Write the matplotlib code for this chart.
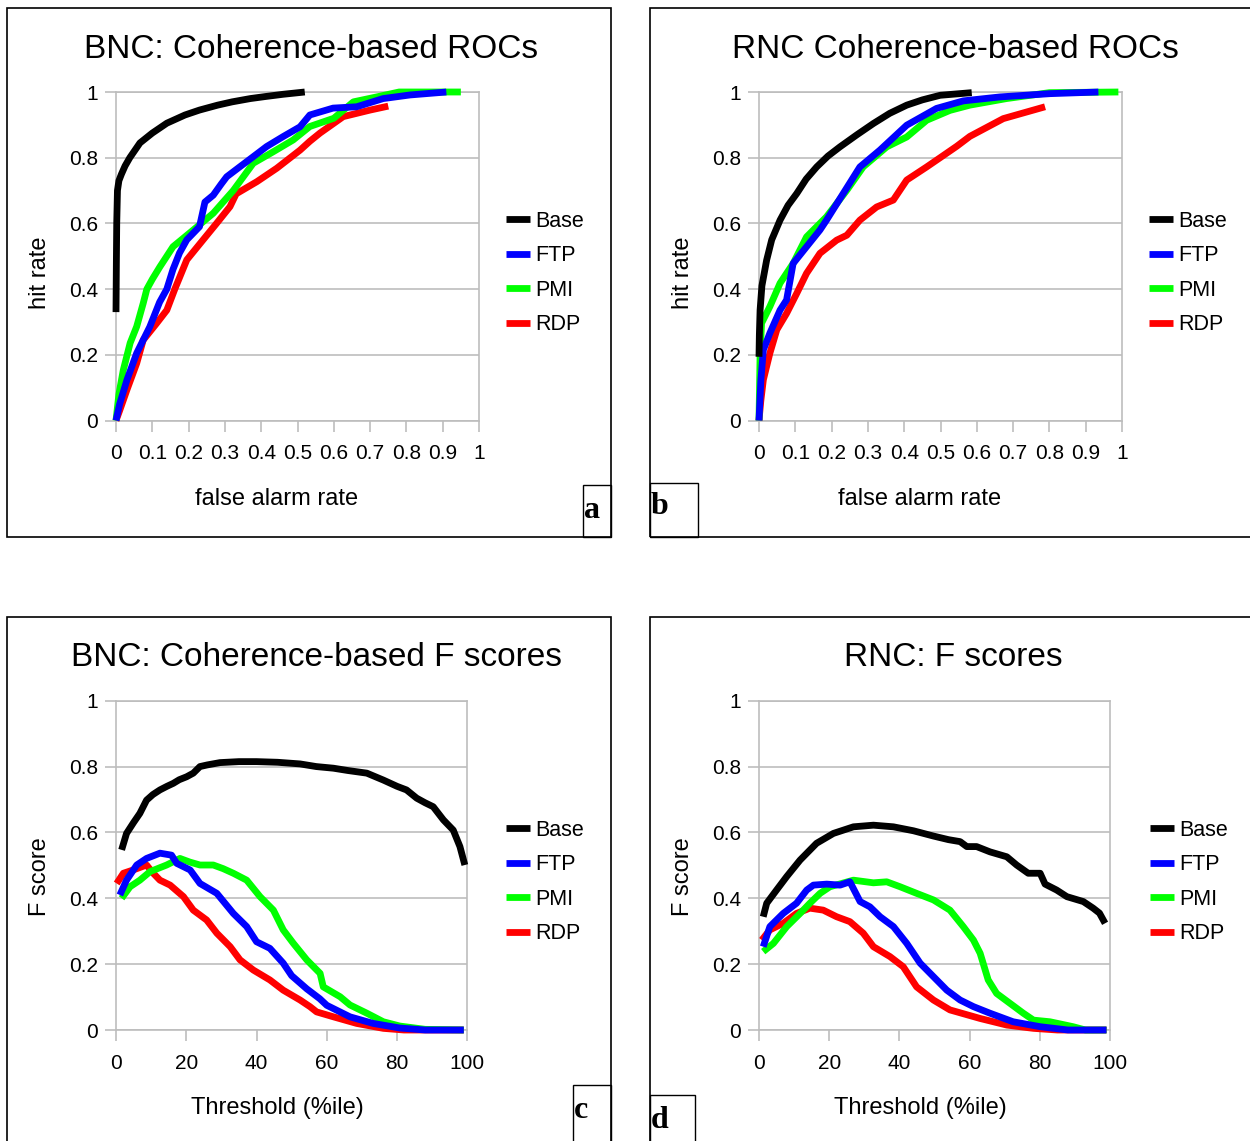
import matplotlib
matplotlib.use('Agg')
import matplotlib.pyplot as plt
from matplotlib.patches import Rectangle

plt.rcParams['font.family'] = ['Liberation Sans', 'DejaVu Sans']

W, H = 1250, 1141

series_names = ['Base', 'FTP', 'PMI', 'RDP']
series_colors = {'Base': '#000000', 'FTP': '#0000ff', 'PMI': '#00ff00', 'RDP': '#ff0000'}

roc_ticks = [0, 0.1, 0.2, 0.3, 0.4, 0.5, 0.6, 0.7, 0.8, 0.9, 1]
roc_tick_labels = ['0', '0.1', '0.2', '0.3', '0.4', '0.5', '0.6', '0.7', '0.8', '0.9', '1']
thr_ticks = [0, 20, 40, 60, 80, 100]
thr_tick_labels = ['0', '20', '40', '60', '80', '100']
y_ticks = [0, 0.2, 0.4, 0.6, 0.8, 1]
y_tick_labels = ['0', '0.2', '0.4', '0.6', '0.8', '1']

# ---- BNC ROC (false alarm rate, hit rate)
bnc_base_far = [0, 0.001, 0.002, 0.004, 0.008, 0.015, 0.025, 0.038, 0.066, 0.10, 0.14, 0.19,
                0.23, 0.28, 0.32, 0.37, 0.41, 0.46, 0.52]
bnc_base_hit = [0.33, 0.48, 0.60, 0.70, 0.73, 0.75, 0.775, 0.80, 0.845, 0.875, 0.905, 0.93,
                0.945, 0.96, 0.97, 0.98, 0.986, 0.993, 1.0]
bnc_ftp_far = [0, 0.01, 0.03, 0.057, 0.075, 0.093, 0.12, 0.14, 0.157, 0.175, 0.195, 0.23, 0.245,
               0.268, 0.29, 0.305, 0.342, 0.378, 0.415, 0.46, 0.507, 0.534, 0.598, 0.663, 0.736,
               0.81, 0.91]
bnc_ftp_hit = [0, 0.05, 0.123, 0.205, 0.245, 0.285, 0.36, 0.40, 0.46, 0.51, 0.55, 0.59, 0.665,
               0.686, 0.72, 0.742, 0.773, 0.803, 0.834, 0.864, 0.894, 0.93, 0.951, 0.955, 0.98,
               0.991, 1.0]
bnc_pmi_far = [0, 0.008, 0.02, 0.039, 0.057, 0.075, 0.085, 0.10, 0.121, 0.157, 0.213, 0.268,
               0.323, 0.378, 0.433, 0.488, 0.534, 0.60, 0.654, 0.718, 0.78, 0.95]
bnc_pmi_hit = [0, 0.08, 0.153, 0.236, 0.286, 0.357, 0.40, 0.43, 0.468, 0.529, 0.58, 0.631,
               0.70, 0.783, 0.818, 0.854, 0.895, 0.92, 0.97, 0.985, 1.0, 1.0]
bnc_rdp_far = [0, 0.01, 0.03, 0.057, 0.075, 0.112, 0.14, 0.162, 0.195, 0.24, 0.277, 0.314,
               0.331, 0.388, 0.443, 0.507, 0.534, 0.562, 0.626, 0.70, 0.75]
bnc_rdp_hit = [0, 0.03, 0.093, 0.174, 0.245, 0.296, 0.336, 0.40, 0.489, 0.55, 0.60, 0.651,
               0.69, 0.727, 0.768, 0.823, 0.85, 0.875, 0.925, 0.945, 0.957]

# ---- RNC ROC
rnc_base_far = [0, 0.001, 0.003, 0.008, 0.021, 0.035, 0.058, 0.08, 0.104, 0.13, 0.159, 0.19,
                0.223, 0.27, 0.315, 0.36, 0.407, 0.45, 0.499, 0.586]
rnc_base_hit = [0.194, 0.26, 0.336, 0.41, 0.488, 0.55, 0.61, 0.655, 0.691, 0.735, 0.772, 0.805,
                0.833, 0.87, 0.904, 0.935, 0.96, 0.976, 0.99, 0.998]
rnc_ftp_far = [0, 0.005, 0.012, 0.03, 0.058, 0.076, 0.094, 0.131, 0.168, 0.186, 0.232, 0.278,
               0.333, 0.407, 0.489, 0.563, 0.664, 0.802, 0.935]
rnc_ftp_hit = [0, 0.12, 0.215, 0.266, 0.336, 0.367, 0.478, 0.529, 0.58, 0.61, 0.691, 0.772,
               0.823, 0.899, 0.95, 0.973, 0.985, 0.995, 1.0]
rnc_pmi_far = [0, 0.003, 0.007, 0.03, 0.058, 0.094, 0.131, 0.186, 0.242, 0.287, 0.352, 0.407,
               0.462, 0.526, 0.581, 0.682, 0.80, 0.99]
rnc_pmi_hit = [0, 0.20, 0.296, 0.347, 0.418, 0.478, 0.559, 0.62, 0.701, 0.772, 0.833, 0.863,
               0.914, 0.944, 0.96, 0.98, 0.998, 1.0]
rnc_rdp_far = [0, 0.005, 0.012, 0.03, 0.049, 0.076, 0.104, 0.131, 0.168, 0.214, 0.242, 0.278,
               0.324, 0.37, 0.407, 0.462, 0.499, 0.545, 0.581, 0.673, 0.788]
rnc_rdp_hit = [0, 0.06, 0.124, 0.205, 0.276, 0.326, 0.387, 0.448, 0.509, 0.549, 0.564, 0.61,
               0.65, 0.671, 0.732, 0.772, 0.80, 0.835, 0.865, 0.919, 0.955]

# ---- BNC F scores (threshold percentile, F)
bnc_base_thr = [1.6, 3, 5, 6.8, 8.7, 10.5, 12.5, 14.5, 16.3, 18, 20.1, 22, 23.9, 26, 29.6, 35,
                40, 46, 52.4, 57, 61.9, 66, 71.4, 76.1, 80, 82.7, 85.6, 88, 90.3, 93.2, 96,
                97.9, 99.3]
bnc_base_f = [0.547, 0.597, 0.63, 0.658, 0.698, 0.715, 0.729, 0.74, 0.749, 0.76, 0.769, 0.78,
              0.80, 0.805, 0.812, 0.815, 0.815, 0.813, 0.808, 0.80, 0.795, 0.788, 0.78, 0.759,
              0.74, 0.729, 0.704, 0.69, 0.678, 0.638, 0.607, 0.557, 0.501]
bnc_ftp_thr = [1.1, 3, 5.9, 8.7, 12.5, 15.8, 17.3, 21.1, 23.9, 28.7, 33.4, 37.2, 40, 43.8, 47.6,
               50, 54.3, 58, 60, 66.6, 73.2, 80.8, 88, 99]
bnc_ftp_f = [0.41, 0.455, 0.501, 0.521, 0.537, 0.531, 0.506, 0.486, 0.445, 0.415, 0.354, 0.314,
             0.268, 0.248, 0.203, 0.165, 0.125, 0.095, 0.075, 0.04, 0.02, 0.006, 0.0, 0.0]
bnc_pmi_thr = [1.6, 4, 6.8, 9.7, 14.4, 18.2, 21, 23.9, 27.7, 30.5, 33.4, 37.2, 41, 44.8, 47.6,
               50.5, 54.3, 58.1, 59, 63.8, 66.6, 71.4, 76.1, 80.8, 88, 99]
bnc_pmi_f = [0.40, 0.435, 0.455, 0.481, 0.501, 0.521, 0.51, 0.501, 0.501, 0.49, 0.476, 0.455,
             0.405, 0.364, 0.304, 0.263, 0.213, 0.172, 0.131, 0.101, 0.076, 0.051, 0.025, 0.012,
             0.002, 0.0]
bnc_rdp_thr = [0.2, 2.1, 4.9, 8.7, 10.6, 12.5, 15.4, 19.2, 22, 25.8, 28.7, 32.5, 35.3, 39.1,
               43.8, 47.6, 52.4, 55.2, 57.1, 61.9, 68.5, 76.1, 82, 99]
bnc_rdp_f = [0.445, 0.476, 0.486, 0.501, 0.476, 0.455, 0.44, 0.405, 0.364, 0.334, 0.294, 0.253,
             0.213, 0.182, 0.152, 0.121, 0.091, 0.071, 0.055, 0.04, 0.02, 0.005, 0.0, 0.0]

# ---- RNC F scores
rnc_base_thr = [1.2, 2.2, 5, 7.9, 11.7, 16.4, 21.2, 26.9, 32.6, 38.3, 44, 49.7, 54, 57.3, 59.2,
                62, 65.8, 70.6, 73.4, 76.7, 80.1, 81.5, 84.8, 87.7, 92.4, 95.2, 97, 98.6]
rnc_base_f = [0.344, 0.385, 0.425, 0.466, 0.516, 0.567, 0.597, 0.617, 0.622, 0.617, 0.605, 0.589,
              0.578, 0.572, 0.557, 0.557, 0.541, 0.526, 0.501, 0.476, 0.476, 0.443, 0.425, 0.405,
              0.39, 0.37, 0.355, 0.324]
rnc_ftp_thr = [1.2, 3.1, 6.9, 10.7, 13.6, 15.5, 19.3, 23.1, 25.9, 28.8, 31.6, 34.5, 38.3, 42.1,
               45.9, 49.7, 53.5, 57.3, 61.1, 65.8, 72.4, 80.1, 88, 99]
rnc_ftp_f = [0.253, 0.314, 0.354, 0.385, 0.425, 0.44, 0.443, 0.44, 0.45, 0.39, 0.374, 0.344,
             0.314, 0.263, 0.203, 0.162, 0.121, 0.091, 0.071, 0.051, 0.025, 0.01, 0.0, 0.0]
rnc_pmi_thr = [1.2, 4.1, 7.9, 11.7, 14.5, 17.4, 20.2, 26.9, 32.6, 36.4, 40.2, 44.9, 49.7, 54.4,
               58.2, 61.1, 63, 65.3, 67.7, 71.5, 75.3, 78.2, 82.9, 89.5, 93, 99]
rnc_pmi_f = [0.238, 0.263, 0.314, 0.354, 0.385, 0.415, 0.435, 0.455, 0.447, 0.45, 0.435, 0.415,
             0.395, 0.364, 0.314, 0.273, 0.233, 0.152, 0.111, 0.081, 0.051, 0.03, 0.025, 0.01,
             0.0, 0.0]
rnc_rdp_thr = [0.8, 3.1, 6.9, 10.7, 14.5, 18.3, 22.1, 25.9, 29.7, 32.6, 37.3, 41.1, 44.9, 49.7,
               54.4, 63, 70.6, 78.2, 85, 99]
rnc_rdp_f = [0.273, 0.304, 0.324, 0.354, 0.37, 0.364, 0.344, 0.329, 0.294, 0.253, 0.223, 0.192,
             0.131, 0.091, 0.061, 0.035, 0.015, 0.005, 0.0, 0.0]

GRID = '#bdbdbd'


def frac(x, y):
    return x / W, 1 - y / H


def panel_frame(left, top, right, bottom, tag, tag_box, tag_xy):
    # outer border of the panel plus the small lettered box
    fig.patches.append(Rectangle(frac(left, bottom), (right - left) / W, (bottom - top) / H,
                                 transform=fig.transFigure, fill=False, ec='black', lw=1.2))
    bx0, by0, bx1, by1 = tag_box
    fig.patches.append(Rectangle(frac(bx0, by1), (bx1 - bx0) / W, (by1 - by0) / H,
                                 transform=fig.transFigure, fill=False, ec='black', lw=1.0))
    fig.text(*frac(*tag_xy), tag, family=['Liberation Serif', 'DejaVu Serif'],
             fontweight='bold', fontsize=23, ha='left', va='baseline')


def make_axes(left, top, right, bottom, xmax, xticks, xlabels):
    ax = fig.add_axes([left / W, 1 - bottom / H, (right - left) / W, (bottom - top) / H])
    ax.set_xlim(0, xmax)
    ax.set_ylim(0, 1)
    ax.set_xticks(xticks)
    ax.set_xticklabels(xlabels)
    ax.set_yticks(y_ticks)
    ax.set_yticklabels(y_tick_labels)
    ax.yaxis.grid(True, color=GRID, lw=1.2)
    ax.set_axisbelow(True)
    for s in ax.spines.values():
        s.set_color(GRID)
        s.set_linewidth(1.2)
        s.set_zorder(1.5)
    ax.tick_params(axis='both', direction='out', length=8, width=1.2, color=GRID,
                   labelsize=15, labelcolor='black')
    ax.tick_params(axis='x', pad=9)
    ax.tick_params(axis='y', pad=5)
    return ax


def draw_series(ax, data):
    lines = {}
    for name in ['RDP', 'PMI', 'FTP', 'Base']:
        xs, ys = data[name]
        lines[name], = ax.plot(xs, ys, color=series_colors[name], lw=4.9, zorder=3,
                               solid_capstyle='butt', solid_joinstyle='round', clip_on=False)
    return [lines[n] for n in series_names]


def add_legend(handles, x, y):
    fig.legend(handles, series_names, loc='center left', bbox_to_anchor=frac(x, y),
               bbox_transform=fig.transFigure, frameon=False, fontsize=15.5,
               handlelength=1.1, handletextpad=0.25, labelspacing=0.63,
               borderpad=0, borderaxespad=0)


fig = plt.figure(figsize=(W / 100, H / 100), dpi=100)

# frames
panel_frame(7, 8, 611, 537, 'a', (583, 485, 611, 537), (584, 518))
panel_frame(650, 8, 1262, 537, 'b', (650, 483, 698, 537), (651, 514))
panel_frame(7, 617, 611, 1160, 'c', (573, 1085, 611, 1160), (574, 1118))
panel_frame(650, 617, 1262, 1160, 'd', (650, 1095, 695, 1160), (651, 1128))

# a: BNC ROC
ax_a = make_axes(116, 92, 479, 420.5, 1, roc_ticks, roc_tick_labels)
h = draw_series(ax_a, {'Base': (bnc_base_far, bnc_base_hit), 'FTP': (bnc_ftp_far, bnc_ftp_hit),
                       'PMI': (bnc_pmi_far, bnc_pmi_hit), 'RDP': (bnc_rdp_far, bnc_rdp_hit)})
add_legend(h, 506, 273)
fig.text(*frac(311.5, 49), 'BNC: Coherence-based ROCs', fontsize=24, ha='center', va='center')
fig.text(*frac(276.5, 499), 'false alarm rate', fontsize=17, ha='center', va='center')
fig.text(*frac(40, 273), 'hit rate', fontsize=17, ha='center', va='center', rotation=90)

# b: RNC ROC
ax_b = make_axes(759, 92, 1122, 420.5, 1, roc_ticks, roc_tick_labels)
h = draw_series(ax_b, {'Base': (rnc_base_far, rnc_base_hit), 'FTP': (rnc_ftp_far, rnc_ftp_hit),
                       'PMI': (rnc_pmi_far, rnc_pmi_hit), 'RDP': (rnc_rdp_far, rnc_rdp_hit)})
add_legend(h, 1149, 273)
fig.text(*frac(955, 49), 'RNC Coherence-based ROCs', fontsize=24, ha='center', va='center')
fig.text(*frac(919.5, 499), 'false alarm rate', fontsize=17, ha='center', va='center')
fig.text(*frac(683, 273), 'hit rate', fontsize=17, ha='center', va='center', rotation=90)

# c: BNC F scores
ax_c = make_axes(116, 700.7, 467.3, 1030, 100, thr_ticks, thr_tick_labels)
h = draw_series(ax_c, {'Base': (bnc_base_thr, bnc_base_f), 'FTP': (bnc_ftp_thr, bnc_ftp_f),
                       'PMI': (bnc_pmi_thr, bnc_pmi_f), 'RDP': (bnc_rdp_thr, bnc_rdp_f)})
add_legend(h, 506, 882)
fig.text(*frac(316, 658), 'BNC: Coherence-based F scores', fontsize=24, ha='center', va='center')
fig.text(*frac(277.5, 1108), 'Threshold (%ile)', fontsize=17, ha='center', va='center')
fig.text(*frac(40, 877), 'F score', fontsize=17, ha='center', va='center', rotation=90)

# d: RNC F scores
ax_d = make_axes(759, 700.7, 1110, 1030, 100, thr_ticks, thr_tick_labels)
h = draw_series(ax_d, {'Base': (rnc_base_thr, rnc_base_f), 'FTP': (rnc_ftp_thr, rnc_ftp_f),
                       'PMI': (rnc_pmi_thr, rnc_pmi_f), 'RDP': (rnc_rdp_thr, rnc_rdp_f)})
add_legend(h, 1150, 882)
fig.text(*frac(953.5, 658), 'RNC: F scores', fontsize=24, ha='center', va='center')
fig.text(*frac(920.5, 1108), 'Threshold (%ile)', fontsize=17, ha='center', va='center')
fig.text(*frac(683, 877), 'F score', fontsize=17, ha='center', va='center', rotation=90)

fig.savefig('out.png', dpi=100)
